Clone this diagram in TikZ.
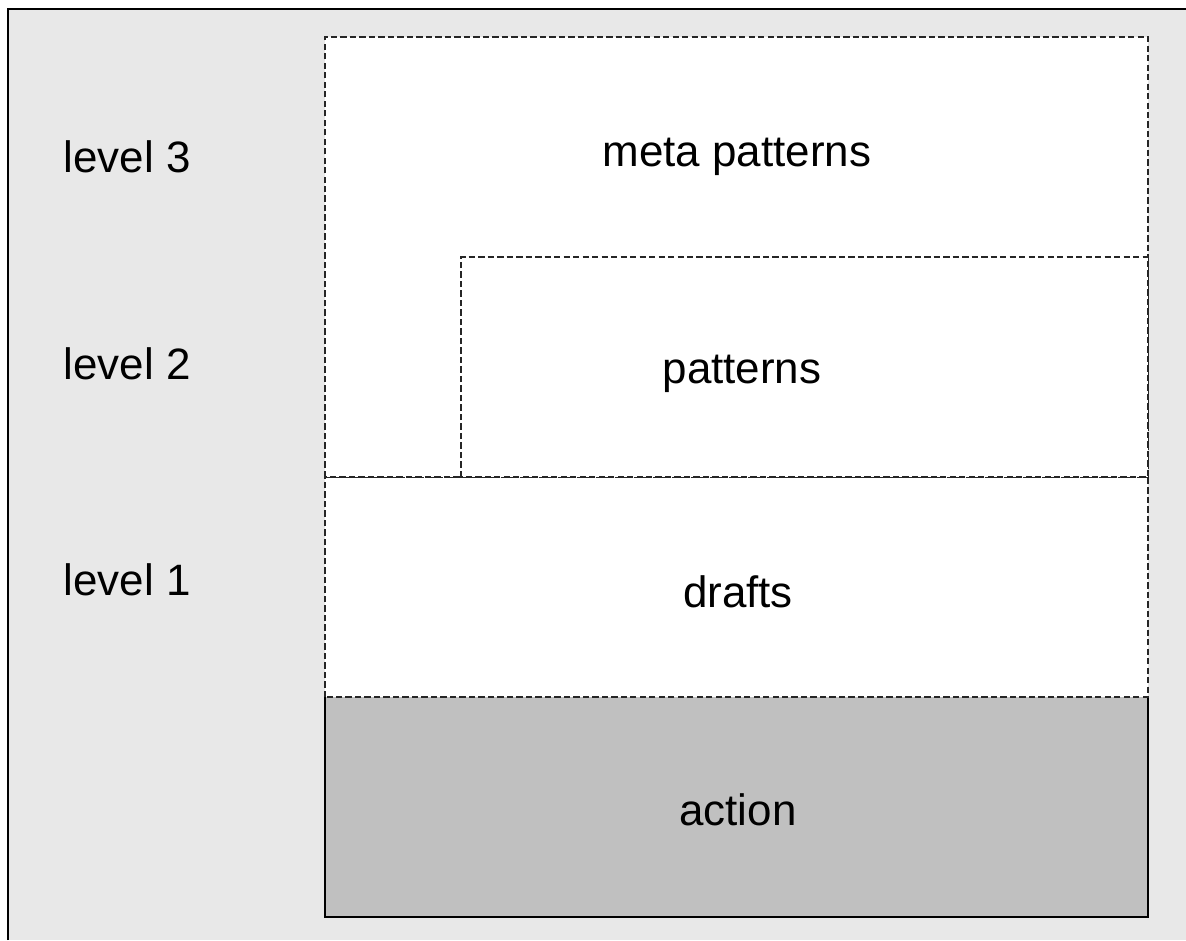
\documentclass[tikz,border=0pt]{standalone}
\usepackage{fontspec}
\setmainfont{Liberation Sans}
\definecolor{panelgray}{HTML}{E8E8E8}
\definecolor{actiongray}{HTML}{C0C0C0}
\tikzset{
  layer/.style={draw=black!85,line width=0.45pt,dash pattern=on 1.8pt off 0.9pt},
  lbl/.style={font=\fontsize{12.5}{15}\selectfont,inner sep=0pt}
}
\begin{document}
\begin{tikzpicture}
    \useasboundingbox (0,0) rectangle (11.86,9.4);
    % background panel
    \fill[panelgray] (0.08,0) rectangle (11.86,9.31);
    \draw[line width=0.6pt] (0.08,0) -- (0.08,9.31) -- (11.86,9.31);
    % layers
    \fill[actiongray] (3.25,0.23) rectangle (11.48,2.43);
    \draw[line width=0.45pt] (3.25,2.43) -- (3.25,0.23) -- (11.48,0.23) -- (11.48,2.43);
    \draw[layer,fill=white] (3.25,2.43) rectangle (11.48,4.63);
    \draw[layer,fill=white] (3.25,4.63) rectangle (11.48,9.03);
    \draw[layer,fill=white] (4.61,4.63) rectangle (11.48,6.83);
    % texts
    \node[lbl] (meta) at (7.37,7.83) {meta patterns};
    \node[lbl] (pat) at (7.42,5.66) {patterns};
    \node[lbl] (drafts) at (7.38,3.48) {drafts};
    \node[lbl] (action) at (7.38,1.30) {action};
    \node[lbl,anchor=west] (lv3) at (0.63,7.83) {level 3};
    \node[lbl,anchor=west] (lv2) at (0.63,5.76) {level 2};
    \node[lbl,anchor=west] (lv1) at (0.63,3.60) {level 1};
\end{tikzpicture}
\end{document}
